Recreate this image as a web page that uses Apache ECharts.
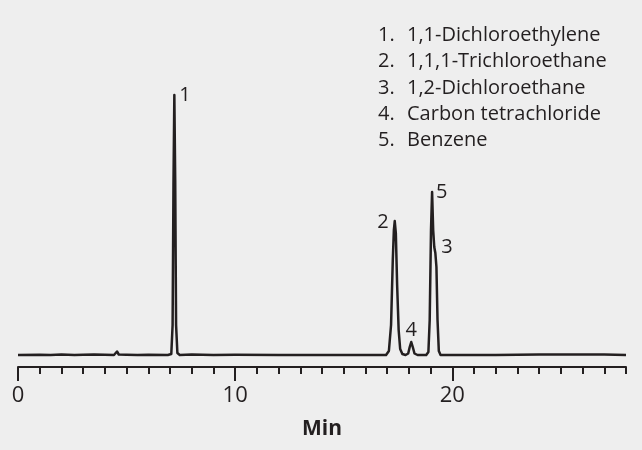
<!DOCTYPE html>
<html>
<head>
<meta charset="utf-8">
<script src="https://cdn.jsdelivr.net/npm/echarts@6/dist/echarts.min.js"></script>
<style>
html,body{margin:0;padding:0;background:#eeeeee;}
#c{width:642px;height:450px;}
</style>
</head>
<body>
<div id="c"></div>
<script>
// Chromatogram trace: retention time (min) and detector response (arbitrary units)
var traceTimes = [0, 1, 1.5, 2, 2.6, 3, 3.5, 4, 4.42, 4.5, 4.56, 4.64, 5, 5.5, 6, 6.9,
  7.06, 7.12, 7.16, 7.2, 7.24, 7.28, 7.34, 7.45, 8, 9, 10, 12, 14, 16, 16.95,
  17.08, 17.18, 17.26, 17.31, 17.35, 17.4, 17.46, 17.53, 17.6, 17.7, 17.85,
  17.97, 18.04, 18.11, 18.18, 18.26, 18.4, 18.8, 18.9, 18.96, 19.02, 19.07,
  19.12, 19.17, 19.22, 19.27, 19.32, 19.38, 19.46, 20, 21, 22, 23, 24, 25, 26, 27, 28];
var traceValues = [0, 0.3, 0, 0.4, 0, 0.3, 0.5, 0.2, 0, 2, 3.5, 0.5, 0.3, 0, 0.3, 0,
  1, 30, 170, 260, 175, 30, 2, 0, 0.4, 0, 0.3, 0, 0, 0, 0,
  4, 30, 95, 125, 134, 122, 70, 25, 6, 1, 0,
  1.5, 8, 13, 8, 1.5, 0, 0, 3, 35, 125, 163, 125, 108, 102, 88, 35, 4, 0, 0, 0, 0, 0.3, 0.5, 0.4, 0.6, 0.5, 0];

// Peak annotations
var peakNumbers = ['1', '2', '3', '4', '5'];
var peakTimes = [7.2, 17.35, 19.22, 18.11, 19.07];
var peakHeights = [260, 134, 102, 13, 163];

// Legend compounds
var compoundNames = ['1,1-Dichloroethylene', '1,1,1-Trichloroethane', '1,2-Dichloroethane', 'Carbon tetrachloride', 'Benzene'];

// Axis
var xMin = 0, xMax = 28;
var majorTickValues = [0, 10, 20];
var axisTitle = 'Min';

var FONT = '"Open Sans", "Noto Sans", sans-serif';
var INK = '#231f20';

var traceData = traceTimes.map(function (t, i) { return [t, traceValues[i]]; });

// label placement for peak numbers (index-aligned with peakNumbers)
var labelPlacement = [
  { position: 'right', distance: 5, offset: [0, 0] },
  { position: 'left', distance: 6, offset: [0, 1] },
  { position: 'right', distance: 6, offset: [0, -6] },
  { position: 'top', distance: 2, offset: [0, 0] },
  { position: 'right', distance: 4, offset: [0, 0] }
];
var peakData = peakNumbers.map(function (n, i) {
  return {
    value: [peakTimes[i], peakHeights[i]],
    name: n,
    label: labelPlacement[i]
  };
});

var legendGraphics = [];
var rowY = [35, 61, 88, 114, 140];
compoundNames.forEach(function (name, i) {
  legendGraphics.push({
    type: 'text', x: 378, y: rowY[i],
    style: { text: (i + 1) + '.', font: '20px ' + FONT, fill: INK, verticalAlign: 'middle', align: 'left' }
  });
  legendGraphics.push({
    type: 'text', x: 407, y: rowY[i],
    style: { text: name, font: '20px ' + FONT, fill: INK, verticalAlign: 'middle', align: 'left' }
  });
});

var chart = echarts.init(document.getElementById('c'), null, { renderer: 'canvas' });
var gridBox = { left: 18, right: 16, top: 90, bottom: 83, containLabel: false };
chart.setOption({
  backgroundColor: '#eeeeee',
  animation: false,
  textStyle: { fontFamily: FONT },
  grid: [Object.assign({}, gridBox), Object.assign({}, gridBox)],
  xAxis: [{
    gridIndex: 0, type: 'value', min: xMin, max: xMax, interval: 1,
    position: 'bottom',
    axisLine: { onZero: false, lineStyle: { color: INK, width: 2 } },
    axisTick: { length: 7, lineStyle: { color: INK, width: 2 } },
    axisLabel: { customValues: majorTickValues, margin: 18, fontSize: 22, color: INK, fontFamily: FONT },
    splitLine: { show: false },
    name: axisTitle, nameLocation: 'middle', nameGap: 52,
    nameTextStyle: { fontSize: 21, fontWeight: 'bold', color: INK, fontFamily: FONT }
  }, {
    gridIndex: 1, type: 'value', min: xMin, max: xMax,
    position: 'bottom',
    axisLine: { show: false, onZero: false },
    axisTick: { customValues: majorTickValues, length: 14, lineStyle: { color: INK, width: 2 } },
    axisLabel: { show: false },
    splitLine: { show: false }
  }],
  yAxis: [
    { gridIndex: 0, type: 'value', min: -12, max: 265, show: false, splitLine: { show: false } },
    { gridIndex: 1, type: 'value', min: -12, max: 265, show: false, splitLine: { show: false } }
  ],
  series: [{
    type: 'line', xAxisIndex: 0, yAxisIndex: 0, data: traceData,
    showSymbol: false, symbol: 'none', clip: false,
    lineStyle: { color: INK, width: 2.5, join: 'round' }
  }, {
    type: 'scatter', xAxisIndex: 0, yAxisIndex: 0, data: peakData,
    symbolSize: 0, silent: true,
    itemStyle: { opacity: 1, color: INK },
    label: { show: true, formatter: '{b}', fontSize: 20, color: INK, fontFamily: FONT }
  }],
  graphic: legendGraphics
});
</script>
</body>
</html>
